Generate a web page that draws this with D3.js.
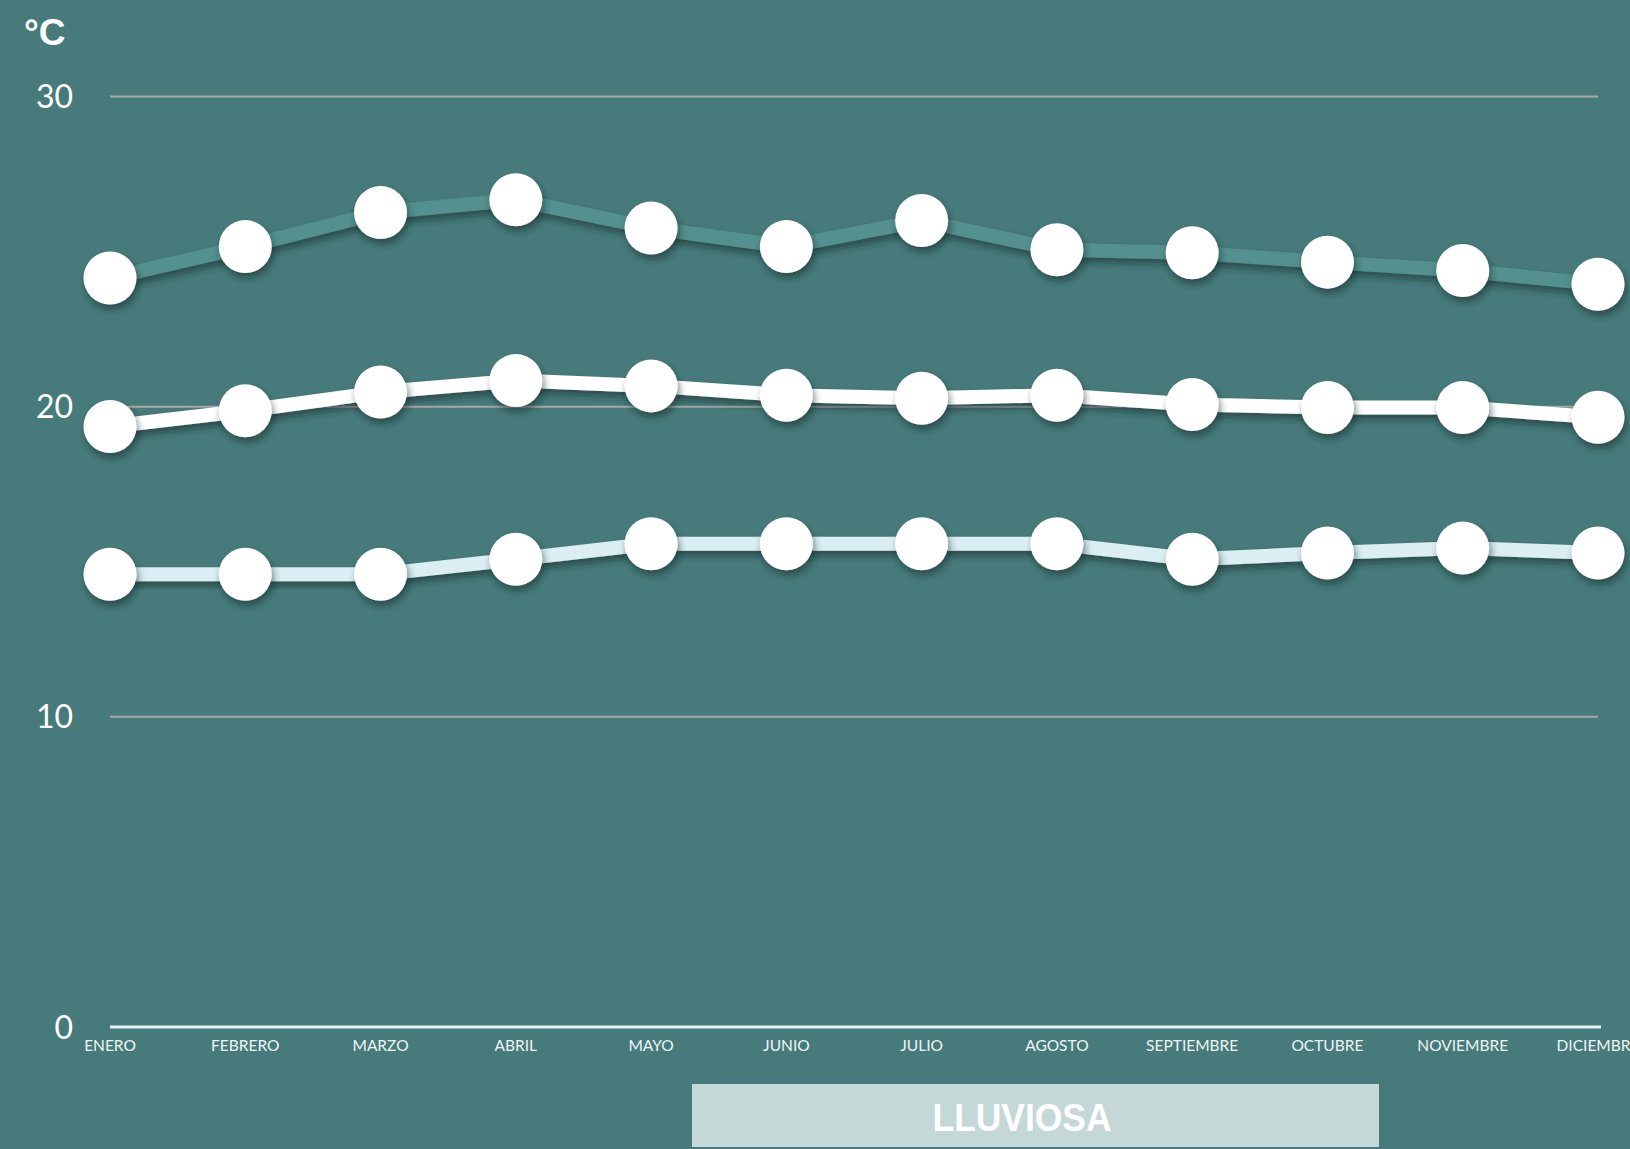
<!DOCTYPE html>
<html><head><meta charset="utf-8">
<script src="https://cdn.jsdelivr.net/npm/d3@7"></script>
<style>
html,body{margin:0;padding:0;background:#477a7a;overflow:hidden}
svg{display:block}
</style></head>
<body>
<svg id="chart" width="1630" height="1149"></svg>
<script>
const months = ["ENERO","FEBRERO","MARZO","ABRIL","MAYO","JUNIO","JULIO","AGOSTO","SEPTIEMBRE","OCTUBRE","NOVIEMBRE","DICIEMBRE"];
const maxTemp = [24.15,25.16,26.26,26.67,25.76,25.16,26.0,25.06,24.96,24.66,24.39,23.95];
const meanTemp = [19.36,19.87,20.47,20.84,20.67,20.37,20.27,20.37,20.07,19.97,19.97,19.66];
const minTemp = [14.6,14.6,14.6,15.08,15.58,15.58,15.58,15.58,15.08,15.28,15.44,15.28];
const yTicks = [0,10,20,30];
const unitLabel = "°C";
const seasonLabel = "LLUVIOSA";

const svg = d3.select("#chart");
const W = 1630, H = 1149;
svg.append("rect").attr("width",W).attr("height",H).attr("fill","#477a7a");

const defs = svg.append("defs");
const f = defs.append("filter").attr("id","shadow").attr("x","-50%").attr("y","-50%").attr("width","200%").attr("height","200%");
f.append("feDropShadow").attr("dx",2).attr("dy",5).attr("stdDeviation",3.5).attr("flood-color","#0d2626").attr("flood-opacity",0.55);

const x = d3.scalePoint().domain(months).range([110,1598]);
const y = d3.scaleLinear().domain([0,30]).range([1027,96.5]);

// gridlines
svg.append("g").selectAll("line").data(yTicks.filter(d=>d>0)).join("line")
  .attr("x1",110).attr("x2",1598).attr("y1",d=>y(d)).attr("y2",d=>y(d))
  .attr("stroke","#a9a9a9").attr("stroke-width",2);
// baseline
svg.append("line").attr("x1",110).attr("x2",1601).attr("y1",y(0)).attr("y2",y(0))
  .attr("stroke","#e6f1f1").attr("stroke-width",3);

// y labels
svg.append("g").selectAll("text").data(yTicks).join("text")
  .attr("x",73).attr("y",d=>y(d)).attr("dy","0.36em")
  .attr("text-anchor","end").attr("fill","#ffffff")
  .attr("font-family","Lato, 'Open Sans', sans-serif").attr("font-size",32)
  .text(d=>d);

svg.append("text").attr("x",24).attr("y",45).attr("fill","#ffffff")
  .attr("font-family","'Liberation Sans', Arial, sans-serif").attr("font-weight","bold").attr("font-size",37)
  .text(unitLabel);

// x labels
svg.append("g").selectAll("text").data(months).join("text")
  .attr("x",d=>x(d)).attr("y",1051)
  .attr("text-anchor","middle").attr("fill","#eef5f5")
  .attr("font-family","Lato, 'Open Sans', sans-serif").attr("font-size",15.5)
  .text(d=>d);

const line = d3.line().x((d,i)=>x(months[i])).y(d=>y(d));
const series = [
  {vals:maxTemp, color:"#52908e"},
  {vals:meanTemp, color:"#ffffff"},
  {vals:minTemp, color:"#dbeef4"}
];
series.forEach(s=>{
  svg.append("path").datum(s.vals).attr("d",line)
    .attr("fill","none").attr("stroke",s.color).attr("stroke-width",14)
    .attr("stroke-linejoin","round").attr("filter","url(#shadow)");
});
series.forEach(s=>{
  svg.append("g").selectAll("circle").data(s.vals).join("circle")
    .attr("cx",(d,i)=>x(months[i])).attr("cy",d=>y(d)).attr("r",26.5)
    .attr("fill","#ffffff").attr("filter","url(#shadow)");
});

// season box
const bx0 = 692, bx1 = 1379;
svg.append("rect").attr("x",bx0).attr("y",1084).attr("width",bx1-bx0).attr("height",63)
  .attr("fill","#c5d8d8");
svg.append("text").attr("x",1022).attr("y",1117).attr("dy","0.36em")
  .attr("text-anchor","middle").attr("fill","#ffffff")
  .attr("font-family","'Liberation Sans', Arial, sans-serif").attr("font-weight","bold").attr("font-size",39)
  .attr("textLength",179).attr("lengthAdjust","spacingAndGlyphs")
  .text(seasonLabel);
</script>
</body></html>
